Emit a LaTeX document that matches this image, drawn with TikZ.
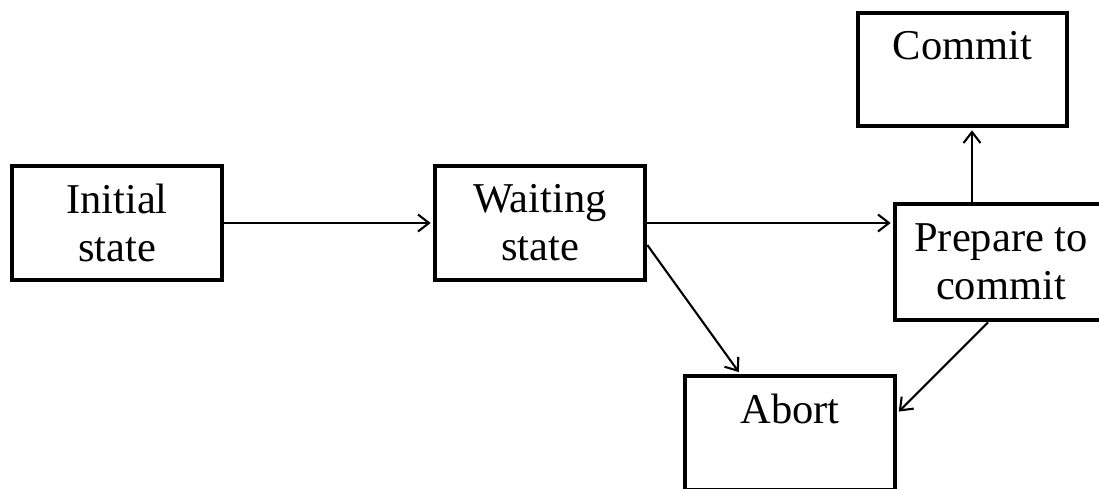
\documentclass[tikz,border=0pt]{standalone}
\usepackage{fontspec}
\setmainfont{Liberation Serif}
\usetikzlibrary{arrows.meta}
\begin{document}
\begin{tikzpicture}[x=1pt,y=-1pt,
  state/.style={draw, line width=4.6pt, rectangle, inner sep=0pt, align=center,
    minimum width=210pt, minimum height=114pt,
    font=\fontsize{42.5}{48}\selectfont},
  flow/.style={line width=2.1pt, -{Straight Barb[length=11pt,width=17pt,line width=2.1pt]}, shorten >=2pt}]
  \useasboundingbox (0,0) rectangle (1099,488);
  \fill[white] (0,0) rectangle (1099,488);

  % states of the commit protocol
  \node[state] (init) at (117,223) {Initial\\state};
  \node[state] (wait) at (540,223) {Waiting\\state};
  \node[state, minimum width=209pt, minimum height=113pt] (commit) at (962.5,69.5) {Commit\\~};
  \node[state, minimum width=212pt, minimum height=116pt] (prep) at (1001,262) {Prepare to\\commit};
  \node[state] (abort) at (790,433) {Abort\\~};

  % transitions
  \draw[flow] (init.east) -- (wait.west);
  \draw[flow] (wait.east) -- (prep.west |- wait.east);
  \draw[flow] ([xshift=-29pt]prep.north) -- ([xshift=-29pt]prep.north |- commit.south);
  \draw[flow] ([yshift=-22pt]wait.east) -- ([xshift=-50pt]abort.north);
  \draw[flow] ([xshift=-13pt]prep.south) -- ([yshift=20pt]abort.east);
\end{tikzpicture}
\end{document}
